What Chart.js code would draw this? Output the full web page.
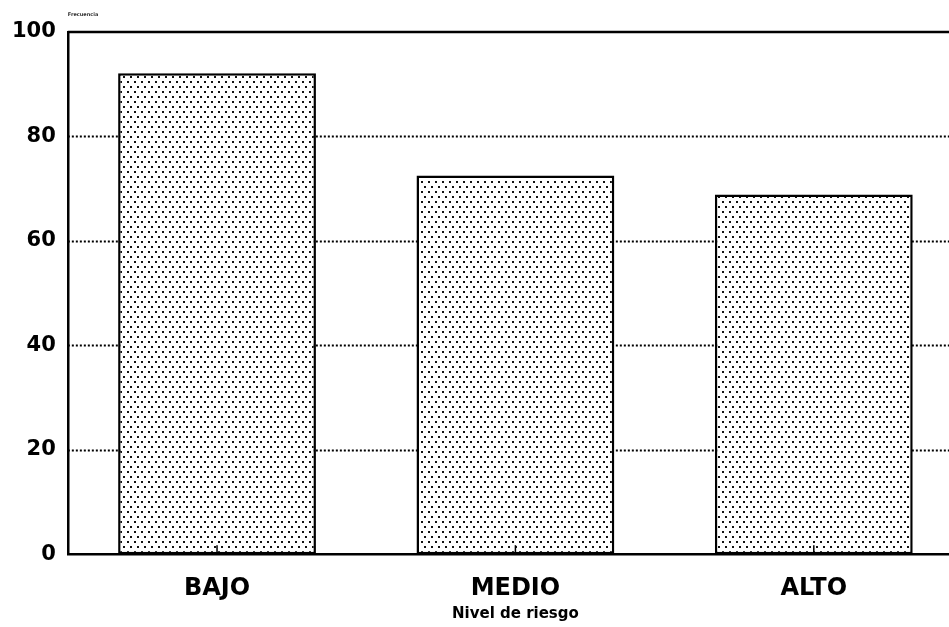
<!DOCTYPE html>
<html>
<head>
<meta charset="utf-8">
<script src="https://cdn.jsdelivr.net/npm/chart.js@4.4.1/dist/chart.umd.min.js"></script>
<style>
html,body{margin:0;padding:0;background:#fff;overflow:hidden;width:949px;height:627px;}
#wrap{width:963px;height:627px;}
</style>
</head>
<body>
<div id="wrap"><canvas id="c" width="963" height="627"></canvas></div>
<script>
const categories = ["BAJO", "MEDIO", "ALTO"];
const values = [92.1, 72.5, 68.9];
const yTicks = [0, 20, 40, 60, 80, 100];
const xTitle = "Nivel de riesgo";
const yTitleSmall = "Frecuencia";

function makePattern() {
  const t = document.createElement('canvas');
  t.width = 7; t.height = 10;
  const g = t.getContext('2d');
  g.fillStyle = '#fff';
  g.fillRect(0, 0, 7, 10);
  g.fillStyle = '#111';
  g.fillRect(1, 1, 2, 2);
  g.fillRect(4, 6, 2, 2);
  return g.createPattern(t, 'repeat');
}

const decor = {
  id: 'decor',
  beforeDatasetsDraw(chart) {
    const y = chart.scales.y;
    const a = chart.chartArea;
    const ctx = chart.ctx;
    ctx.save();
    ctx.strokeStyle = '#000';
    ctx.lineWidth = 2;
    ctx.setLineDash([2, 2]);
    yTicks.slice(1, -1).forEach(v => {
      const py = Math.round(y.getPixelForValue(v)) + 0.5;
      ctx.beginPath();
      ctx.moveTo(a.left, py);
      ctx.lineTo(a.right, py);
      ctx.stroke();
    });
    ctx.restore();
  },
  afterDatasetsDraw(chart) {
    const y = chart.scales.y;
    const x = chart.scales.x;
    const a = chart.chartArea;
    const ctx = chart.ctx;
    ctx.save();
    ctx.strokeStyle = '#000';
    ctx.lineWidth = 2.5;
    const py = y.getPixelForValue(yTicks[yTicks.length - 1]);
    ctx.beginPath();
    ctx.moveTo(a.left, py);
    ctx.lineTo(a.right, py);
    ctx.stroke();
    ctx.lineWidth = 1.5;
    categories.forEach((c, i) => {
      const px = x.getPixelForValue(i);
      ctx.beginPath();
      ctx.moveTo(px, a.bottom);
      ctx.lineTo(px, a.bottom - 9);
      ctx.stroke();
    });
    ctx.fillStyle = '#333';
    ctx.font = 'bold 5px "DejaVu Sans"';
    ctx.textBaseline = 'middle';
    ctx.fillText(yTitleSmall, a.left, a.top - 17);
    ctx.restore();
  }
};

new Chart(document.getElementById('c'), {
  type: 'bar',
  data: {
    labels: categories,
    datasets: [{
      data: values,
      backgroundColor: makePattern(),
      borderColor: '#000',
      borderWidth: 2.5,
      borderSkipped: false,
      barPercentage: 0.663,
      categoryPercentage: 1.0
    }]
  },
  options: {
    responsive: false,
    animation: false,
    devicePixelRatio: 1,
    layout: { padding: { left: 0, right: 0, top: 32, bottom: 4 } },
    plugins: {
      legend: { display: false },
      tooltip: { enabled: false },
      title: { display: false }
    },
    scales: {
      x: {
        grid: { display: false, drawTicks: false },
        border: { display: true, color: '#000', width: 2.5 },
        ticks: {
          color: '#000',
          padding: 20,
          font: { family: 'DejaVu Sans', size: 24, weight: 'bold' }
        },
        title: {
          display: true,
          text: xTitle,
          color: '#000',
          padding: { top: -18, bottom: 0 },
          font: { family: 'DejaVu Sans', size: 15, weight: 'bold' }
        }
      },
      y: {
        min: 0,
        max: 100,
        afterBuildTicks(scale) { scale.ticks = yTicks.map(v => ({ value: v })); },
        border: { display: true, color: '#000', width: 2.5 },
        grid: { display: false, drawTicks: false },
        ticks: {
          color: '#000',
          padding: 12,
          font: { family: 'DejaVu Sans', size: 21, weight: 'bold' }
        }
      }
    }
  },
  plugins: [decor]
});
</script>
</body>
</html>
